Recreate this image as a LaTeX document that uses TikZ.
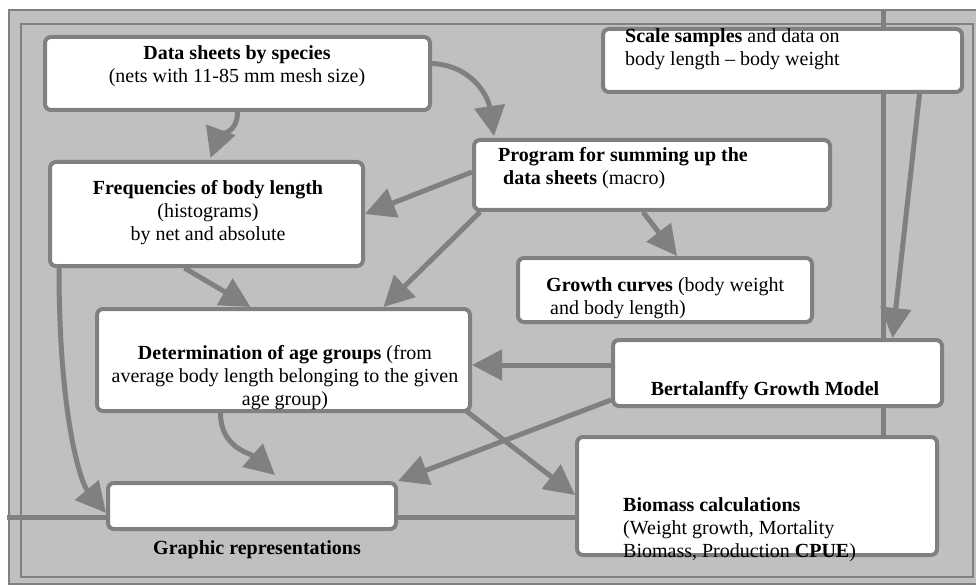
\documentclass[tikz,border=0pt]{standalone}
\usepackage{fontspec}
\setmainfont{Liberation Serif}
\usetikzlibrary{arrows.meta,calc}
\definecolor{linegray}{HTML}{808080}
\definecolor{fillgray}{HTML}{C0C0C0}
\tikzset{
  box/.style={draw=linegray, line width=4pt, fill=white, rounded corners=6pt, inner sep=0pt},
  txt/.style={font=\fontsize{20}{23}\selectfont, inner sep=0pt},
  arr/.style={draw=linegray, line width=5pt, -{Triangle[length=30pt,width=30pt]}},
  link/.style={draw=linegray, line width=5pt},
}
\begin{document}
\begin{tikzpicture}[x=1pt, y=-1pt]
  \useasboundingbox (0,0) rectangle (976,585);
  % frames
  \draw[linegray, line width=2pt, fill=fillgray] (9,10) rectangle (982,584);
  \draw[linegray, line width=2pt] (21,24) rectangle (973,577);
  \coordinate (topend) at (883,9);
  \coordinate (leftend) at (7,517);
  % boxes
  \node[box, minimum width=385pt, minimum height=73pt] (data) at (237.5,73.5) {};
  \node[box, minimum width=313pt, minimum height=104pt] (freq) at (206.5,214) {};
  \node[box, minimum width=356pt, minimum height=70pt] (prog) at (652,175) {};
  \node[box, minimum width=294pt, minimum height=64pt] (growth) at (665,290) {};
  \node[box, minimum width=373pt, minimum height=102pt] (determ) at (283.5,360) {};
  \node[box, minimum width=329pt, minimum height=66pt] (bert) at (777.5,373) {};
  \node[box, minimum width=360pt, minimum height=118pt] (biomass) at (757,496) {};
  \node[box, minimum width=288pt, minimum height=46pt] (graphic) at (252,506) {};
  % lines
  \draw[link] (topend) -- (topend |- bert.north);
  \node[box, minimum width=359pt, minimum height=63pt] (scale) at (782.5,60.5) {};
  \draw[link] (topend |- bert.south) -- (topend |- biomass.north);
  \draw[link] (leftend) -- (leftend -| graphic.west);
  \draw[link] (graphic.east |- leftend) -- (biomass.west |- leftend);
  % arrows
  \draw[arr] (data.south) .. controls +(0,22) and +(8,-22) .. ($(freq.north)+(4,-2)$);
  \draw[arr] ($(data.east)+(0,-10)$) .. controls +(40,2) and +(-6,-40) .. ($(prog.north west)+(22,-2)$);
  \draw[arr] ($(prog.west)+(0,-3)$) -- (freq.east);
  \draw[arr] ($(prog.south west)+(8,0)$) -- ($(determ.north)+(100,0)$);
  \draw[arr] ($(prog.south)+(-9,0)$) -- ($(growth.north)+(12,0)$);
  \draw[arr] ($(freq.south)+(-22,0)$) -- ($(determ.north)+(-33,0)$);
  \draw[arr] ($(freq.south west)+(11,0)$) .. controls +(0,150) and +(-25,-30) .. ($(graphic.west)+(0,7)$);
  \draw[arr] ($(bert.west)+(0,-8)$) -- ($(determ.east)+(0,5)$);
  \draw[arr] ($(bert.south west)+(0,-8)$) -- (graphic.north east);
  \draw[arr] ($(determ.south)+(-63,0)$) .. controls +(0,35) and +(-25,-22) .. ($(graphic.north)+(23,-6)$);
  \draw[arr] ($(determ.south east)+(-7,-3)$) -- ($(biomass.west)+(0,-1)$);
  \draw[arr] ($(scale.south)+(137,0)$) -- ($(bert.north)+(115,0)$);
  % texts
  \node[txt, align=center] (data-t) at (237,66) {\textbf{Data sheets by species}\\(nets with 11-85 mm mesh size)};
  \node[txt, align=center] (freq-t) at (208,213) {\textbf{Frequencies of body length}\\(histograms)\\by net and absolute};
  \node[txt, align=left, anchor=west] (prog-t) at (498,168) {\textbf{Program for summing up the}\\\hspace*{5pt}\textbf{data sheets} (macro)};
  \node[txt, align=left, anchor=west] (scale-t) at (625,49.5) {\textbf{Scale samples} and data on\\body length \textendash{} body weight};
  \node[txt, align=left, anchor=west] (growth-t) at (546,298.5) {\textbf{Growth curves} (body weight\\\hspace*{4pt}and body length)};
  \node[txt, align=center] (determ-t) at (285,378) {\textbf{Determination of age groups} (from\\average body length belonging to the given\\age group)};
  \node[txt] (bert-t) at (765,391) {\textbf{Bertalanffy Growth Model}};
  \node[txt, align=left, anchor=west] (biomass-t) at (623,530) {\textbf{Biomass calculations}\\(Weight growth, Mortality\\Biomass, Production \textbf{CPUE})};
  \node[txt] (graphic-t) at (257,550) {\textbf{Graphic representations}};
\end{tikzpicture}
\end{document}
